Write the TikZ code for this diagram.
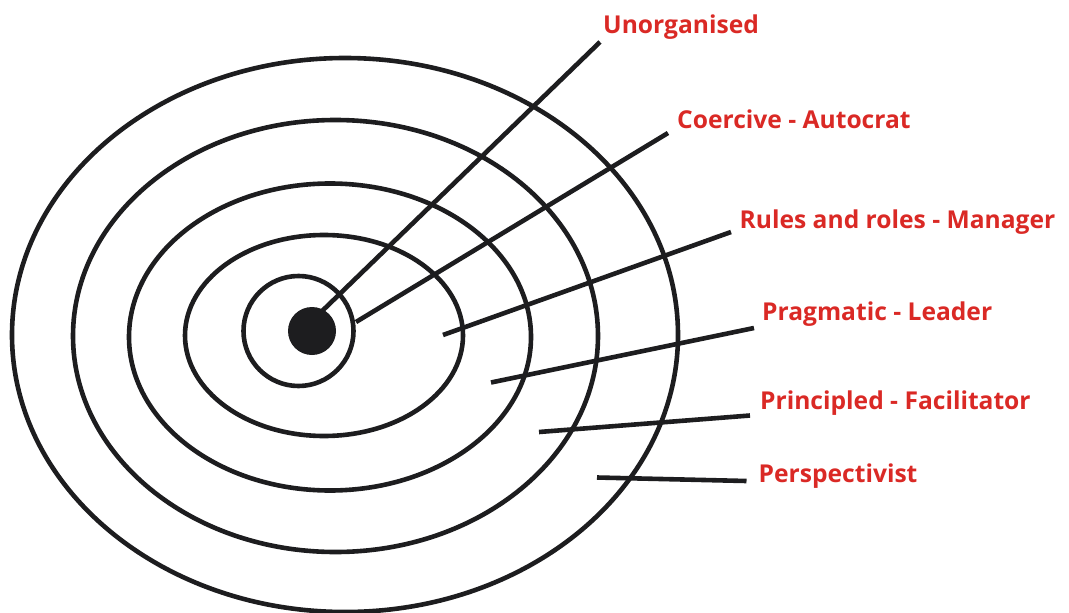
\documentclass[tikz,border=0pt]{standalone}
\usepackage{fontspec}
\setmainfont{Open Sans}
\usepackage{tikz}
\usetikzlibrary{positioning}
\definecolor{labelred}{RGB}{218, 41, 37}
\definecolor{inkblack}{RGB}{29, 29, 31}

\begin{document}
\begin{tikzpicture}[x=1pt, y=-1pt,
  ring/.style={inkblack, line width=4.6pt},
  pointer/.style={inkblack, line width=4.6pt},
  lbl/.style={labelred, font=\fontsize{24.6}{30}\selectfont\bfseries, anchor=base west, inner sep=0pt}]

  \useasboundingbox (0,0) rectangle (1069,613);

  % --- The rings, outermost first ---
  \draw[ring] (345,335) ellipse [x radius=333, y radius=277];
  \draw[ring] (335.5,336) ellipse [x radius=262.5, y radius=216];
  \draw[ring] (330,337) ellipse [x radius=201, y radius=153.5];
  \draw[ring] (324,335.5) ellipse [x radius=139, y radius=100.5];
  \draw[ring] (298.5,331) circle [radius=55];

  % --- Inner ends of the pointers ---
  \coordinate (unorg-in) at (318,315);
  \coordinate (coerc-in) at (356,322);
  \coordinate (rules-in) at (443,335);
  \coordinate (prag-in) at (491,382.5);
  \coordinate (princ-in) at (539,432);
  \coordinate (persp-in) at (597,477.5);

  % --- Outer ends of the pointers ---
  \coordinate (unorg-out) at (600,42);
  \coordinate (coerc-out) at (668,133);
  \coordinate (rules-out) at (731,232);
  \coordinate (prag-out) at (754,328);
  \coordinate (princ-out) at (750,415.5);
  \coordinate (persp-out) at (746.5,481);

  % --- Labels ---
  \node[lbl] (unorg) at (603,33) {Unorganised};
  \node[lbl] (coerc) at (677,128.5) {Coercive - Autocrat};
  \node[lbl] (rules) at (739.5,228.5) {Rules and roles - Manager};
  \node[lbl] (prag) at (762,320) {Pragmatic - Leader};
  \node[lbl] (princ) at (760,409.5) {Principled - Facilitator};
  \node[lbl] (persp) at (758.5,482.5) {Perspectivist};

  % --- Pointers ---
  \foreach \p in {unorg, coerc, rules, prag, princ, persp}
    \draw[pointer] (\p-in) -- (\p-out);

  % --- Centre dot ---
  \node[circle, fill=inkblack, minimum size=48pt, inner sep=0pt] (core) at (312,331) {};

\end{tikzpicture}
\end{document}
